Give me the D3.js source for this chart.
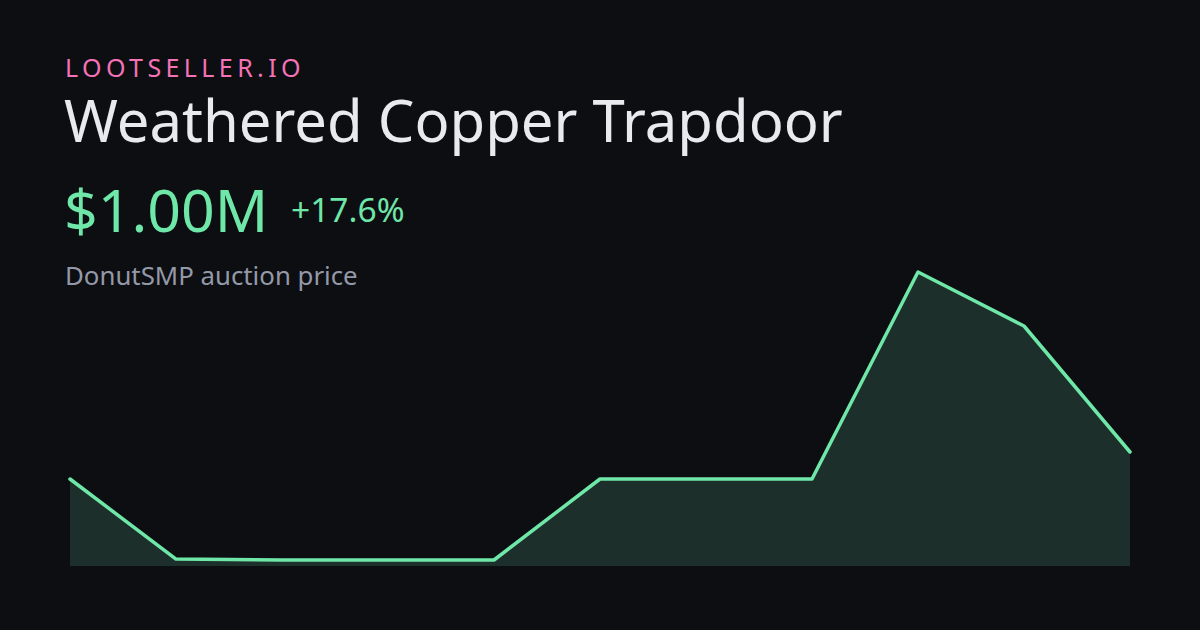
<!DOCTYPE html>
<html><head><meta charset="utf-8">
<script src="https://cdn.jsdelivr.net/npm/d3@7"></script>
<style>html,body{margin:0;padding:0;background:#0c0e12;}svg{display:block;}</style>
</head><body>
<script>
const brand = "LOOTSELLER.IO";
const title = "Weathered Copper Trapdoor";
const priceLabel = "$1.00M";
const changeLabel = "+17.6%";
const subtitle = "DonutSMP auction price";
const pointIndex = [0,1,2,3,4,5,6,7,8,9,10];
const prices = [0.85,0.405,0.40,0.40,0.40,0.85,0.85,0.85,2.0,1.7,1.0];

const W = 1200, H = 630;
const svg = d3.select("body").append("svg").attr("width", W).attr("height", H);
svg.append("rect").attr("width", W).attr("height", H).attr("fill", "#0c0e12");

const font = "'Noto Sans', sans-serif";
svg.append("text").attr("x", 65).attr("y", 77).attr("fill", "#f472b6")
  .attr("font-family", font).attr("font-size", 25).attr("letter-spacing", 4.4).text(brand);
svg.append("text").attr("x", 64).attr("y", 142).attr("fill", "#e8eaef")
  .attr("font-family", font).attr("font-size", 58).text(title);
svg.append("text").attr("x", 64).attr("y", 232).attr("fill", "#6ee7a8")
  .attr("font-family", font).attr("font-size", 59).text(priceLabel);
svg.append("text").attr("x", 291).attr("y", 222).attr("fill", "#6ee7a8")
  .attr("font-family", font).attr("font-size", 33.5).text(changeLabel);
svg.append("text").attr("x", 65).attr("y", 285).attr("fill", "#9499a8")
  .attr("font-family", font).attr("font-size", 25.8).text(subtitle);

const x = d3.scaleLinear().domain(d3.extent(pointIndex)).range([70, 1130]);
const y = d3.scaleLinear().domain([d3.min(prices), d3.max(prices)]).range([560, 272]);
const baseY = 566;
const data = pointIndex.map((d,i)=>({i:d, v:prices[i]}));

svg.append("path").datum(data)
  .attr("d", d3.area().x(d=>x(d.i)).y0(baseY).y1(d=>y(d.v)))
  .attr("fill", "#1d2f2a");
svg.append("path").datum(data)
  .attr("d", d3.line().x(d=>x(d.i)).y(d=>y(d.v)))
  .attr("fill", "none").attr("stroke", "#6ee7a8").attr("stroke-width", 3.5)
  .attr("stroke-linejoin", "round").attr("stroke-linecap", "round");
</script>
</body></html>
